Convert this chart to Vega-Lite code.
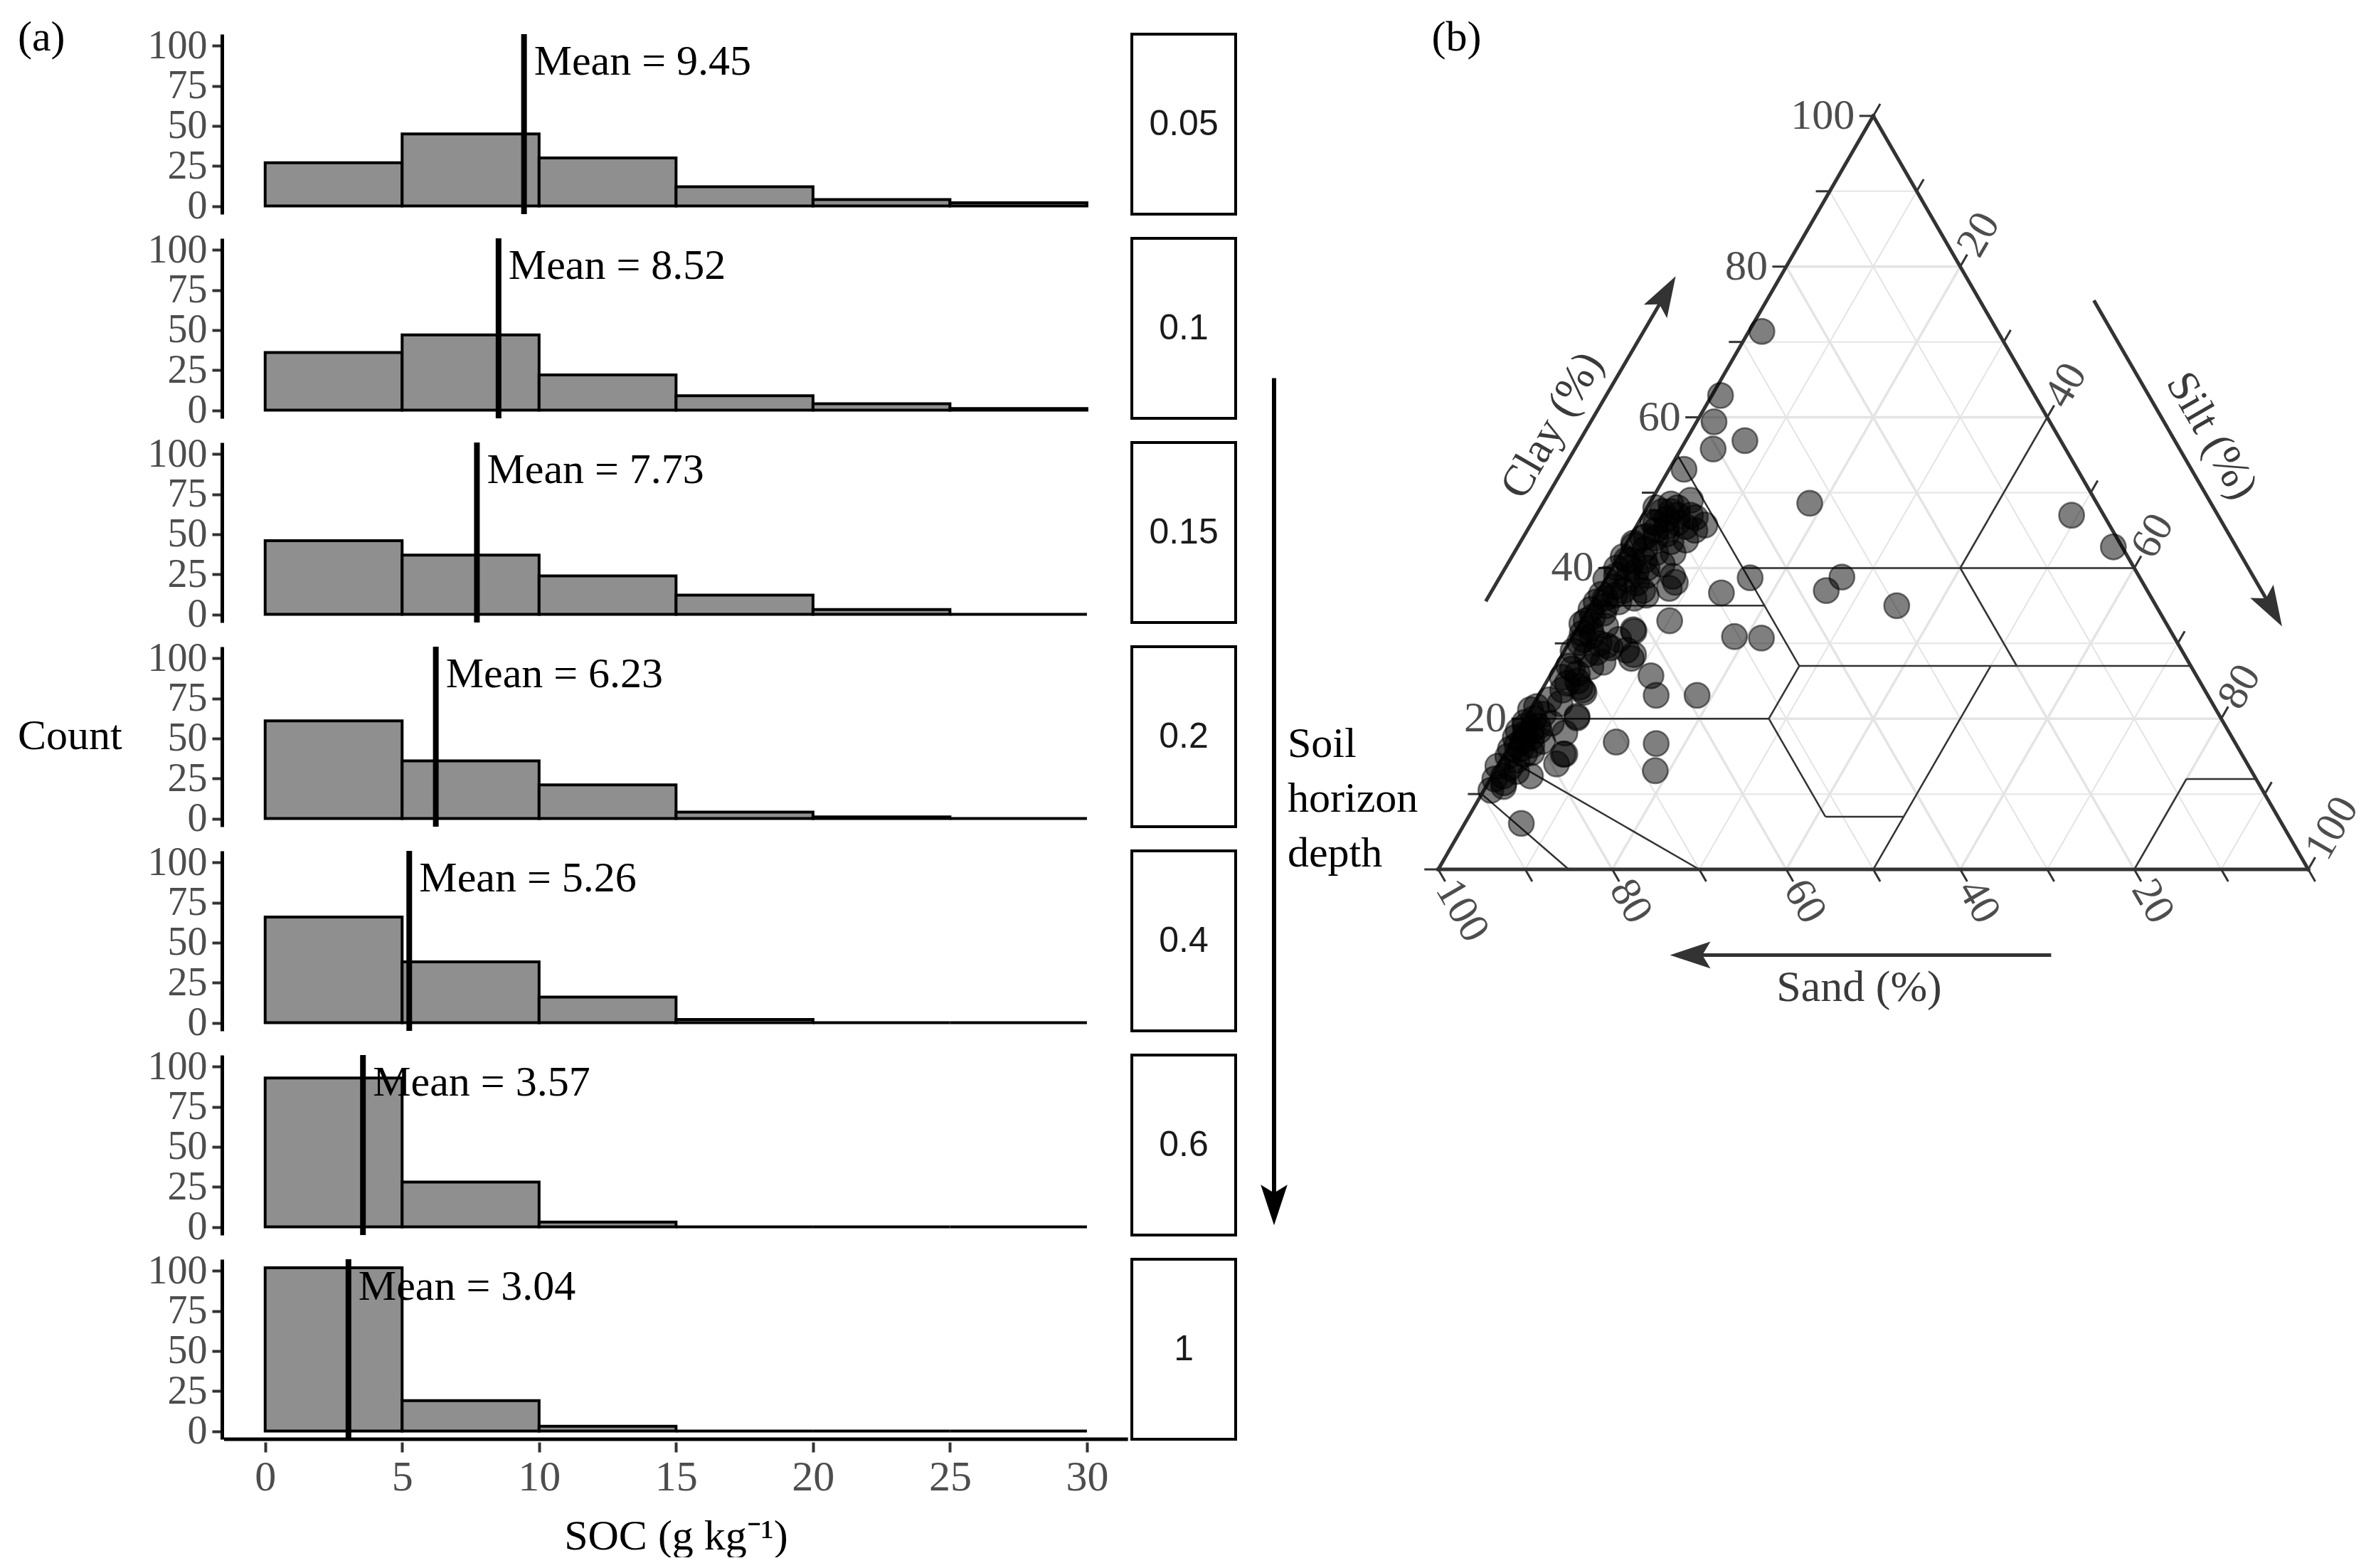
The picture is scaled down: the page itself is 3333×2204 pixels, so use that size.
{
"$schema": "https://vega.github.io/schema/vega-lite/v6.json",
"background": "white",
"padding": {"left": 0, "top": 23, "right": 0, "bottom": 0},
"spacing": 0,
"config": {"font": "Liberation Serif", "view": {"stroke": null}, "axis": {"grid": false, "labelOverlap": false, "labelFont": "Liberation Serif", "titleFont": "Liberation Serif"}},
"datasets": {
"hist": [
{"depth":"0.05","bin":0,"bin_end":5,"count":27},{"depth":"0.05","bin":5,"bin_end":10,"count":45},{"depth":"0.05","bin":10,"bin_end":15,"count":30},{"depth":"0.05","bin":15,"bin_end":20,"count":12},{"depth":"0.05","bin":20,"bin_end":25,"count":4},{"depth":"0.05","bin":25,"bin_end":30,"count":2},
{"depth":"0.1","bin":0,"bin_end":5,"count":36},{"depth":"0.1","bin":5,"bin_end":10,"count":47},{"depth":"0.1","bin":10,"bin_end":15,"count":22},{"depth":"0.1","bin":15,"bin_end":20,"count":9},{"depth":"0.1","bin":20,"bin_end":25,"count":4},{"depth":"0.1","bin":25,"bin_end":30,"count":1},
{"depth":"0.15","bin":0,"bin_end":5,"count":46},{"depth":"0.15","bin":5,"bin_end":10,"count":37},{"depth":"0.15","bin":10,"bin_end":15,"count":24},{"depth":"0.15","bin":15,"bin_end":20,"count":12},{"depth":"0.15","bin":20,"bin_end":25,"count":3},{"depth":"0.15","bin":25,"bin_end":30,"count":0},
{"depth":"0.2","bin":0,"bin_end":5,"count":61},{"depth":"0.2","bin":5,"bin_end":10,"count":36},{"depth":"0.2","bin":10,"bin_end":15,"count":21},{"depth":"0.2","bin":15,"bin_end":20,"count":4},{"depth":"0.2","bin":20,"bin_end":25,"count":1},{"depth":"0.2","bin":25,"bin_end":30,"count":0},
{"depth":"0.4","bin":0,"bin_end":5,"count":66},{"depth":"0.4","bin":5,"bin_end":10,"count":38},{"depth":"0.4","bin":10,"bin_end":15,"count":16},{"depth":"0.4","bin":15,"bin_end":20,"count":2},{"depth":"0.4","bin":20,"bin_end":25,"count":0},{"depth":"0.4","bin":25,"bin_end":30,"count":0},
{"depth":"0.6","bin":0,"bin_end":5,"count":93},{"depth":"0.6","bin":5,"bin_end":10,"count":28},{"depth":"0.6","bin":10,"bin_end":15,"count":3},{"depth":"0.6","bin":15,"bin_end":20,"count":0},{"depth":"0.6","bin":20,"bin_end":25,"count":0},{"depth":"0.6","bin":25,"bin_end":30,"count":0},
{"depth":"1","bin":0,"bin_end":5,"count":102},{"depth":"1","bin":5,"bin_end":10,"count":19},{"depth":"1","bin":10,"bin_end":15,"count":3},{"depth":"1","bin":15,"bin_end":20,"count":0},{"depth":"1","bin":20,"bin_end":25,"count":0},{"depth":"1","bin":25,"bin_end":30,"count":0},
{"depth":"0.05","mean":9.45},{"depth":"0.1","mean":8.52},{"depth":"0.15","mean":7.73},{"depth":"0.2","mean":6.23},{"depth":"0.4","mean":5.26},{"depth":"0.6","mean":3.57},{"depth":"1","mean":3.04}
],
"soil": [
{"clay":71.4,"silt":1.5,"sand":27.1},{"clay":62.9,"silt":1.0,"sand":36.1},{"clay":59.4,"silt":2.0,"sand":38.6},{"clay":56.9,"silt":6.8,"sand":36.3},{"clay":55.8,"silt":3.7,"sand":40.5},{"clay":53.1,"silt":1.7,"sand":45.2},{"clay":48.6,"silt":18.4,"sand":33.0},{"clay":47.0,"silt":49.3,"sand":3.7},{"clay":42.8,"silt":56.2,"sand":1.0},{"clay":38.7,"silt":16.5,"sand":44.8},{"clay":38.8,"silt":27.0,"sand":34.2},{"clay":37.0,"silt":26.1,"sand":36.9},{"clay":35.0,"silt":35.2,"sand":29.8},{"clay":36.7,"silt":14.2,"sand":49.1},{"clay":45.7,"silt":7.8,"sand":46.5},{"clay":33.0,"silt":10.1,"sand":56.9},{"clay":30.9,"silt":18.6,"sand":50.5},{"clay":30.7,"silt":21.8,"sand":47.5},{"clay":25.7,"silt":11.6,"sand":62.7},{"clay":23.1,"silt":13.5,"sand":63.4},{"clay":23.1,"silt":18.2,"sand":58.7},{"clay":16.9,"silt":12.0,"sand":71.1},{"clay":16.7,"silt":16.7,"sand":66.6},{"clay":13.1,"silt":18.4,"sand":68.5},{"clay":6.1,"silt":6.5,"sand":87.4},{"clay":43.7,"silt":6.6,"sand":49.7},{"clay":28.5,"silt":8.2,"sand":63.3},{"clay":31.8,"silt":6.5,"sand":61.7},
{"clay":48.5,"silt":2.5,"sand":49.0},{"clay":48,"silt":3.5,"sand":48.5},{"clay":47.5,"silt":2,"sand":50.5},{"clay":47,"silt":4,"sand":49},{"clay":46.5,"silt":3,"sand":50.5},{"clay":46,"silt":2,"sand":52},{"clay":46,"silt":4.5,"sand":49.5},{"clay":45.5,"silt":3.5,"sand":51},{"clay":45,"silt":2.5,"sand":52.5},{"clay":44.5,"silt":4,"sand":51.5},{"clay":44,"silt":1.5,"sand":54.5},{"clay":44,"silt":3,"sand":53},{"clay":43.5,"silt":5,"sand":51.5},{"clay":47,"silt":5.5,"sand":47.5},{"clay":45.5,"silt":5.7,"sand":48.8},{"clay":46.7,"silt":6.2,"sand":47.1},{"clay":49,"silt":4.5,"sand":46.5},{"clay":48,"silt":1,"sand":51},{"clay":46.1,"silt":1.6,"sand":52.3},{"clay":44.2,"silt":1.8,"sand":54},{"clay":43.3,"silt":0.8,"sand":55.9},{"clay":45,"silt":7,"sand":48},{"clay":47.5,"silt":3,"sand":49.5},
{"clay":43,"silt":1,"sand":56},{"clay":42.5,"silt":2.5,"sand":55},{"clay":42,"silt":4,"sand":54},{"clay":41.5,"silt":0.5,"sand":58},{"clay":41,"silt":1.8,"sand":57.2},{"clay":41,"silt":3.2,"sand":55.8},{"clay":40.5,"silt":5.5,"sand":54},{"clay":40,"silt":2,"sand":58},{"clay":40,"silt":0.5,"sand":59.5},{"clay":39.5,"silt":3,"sand":57.5},{"clay":39,"silt":4.5,"sand":56.5},{"clay":39,"silt":1,"sand":60},{"clay":38.9,"silt":7.5,"sand":53.6},{"clay":38.5,"silt":2.5,"sand":59},{"clay":38.5,"silt":0,"sand":61.5},{"clay":38.1,"silt":8.2,"sand":53.7},{"clay":38,"silt":3.8,"sand":58.2},{"clay":37.5,"silt":1.5,"sand":61},{"clay":37.3,"silt":7.9,"sand":54.8},{"clay":37,"silt":5,"sand":58},{"clay":37,"silt":2.8,"sand":60.2},{"clay":36.5,"silt":0.5,"sand":63},{"clay":36.4,"silt":2.1,"sand":61.5},{"clay":36.4,"silt":5.7,"sand":57.9},{"clay":36,"silt":4.5,"sand":59.5},{"clay":36,"silt":1.2,"sand":62.8},{"clay":35.5,"silt":0.4,"sand":64.1},{"clay":35.5,"silt":3,"sand":61.5},{"clay":35,"silt":1.8,"sand":63.2},{"clay":34.5,"silt":0.3,"sand":65.2},{"clay":41.1,"silt":1.1,"sand":57.8},{"clay":42,"silt":6,"sand":52},{"clay":40,"silt":4,"sand":56},
{"clay":34,"silt":2,"sand":64},{"clay":33.5,"silt":1,"sand":65.5},{"clay":33,"silt":0.5,"sand":66.5},{"clay":32.6,"silt":0.2,"sand":67.2},{"clay":32.3,"silt":3.1,"sand":64.6},{"clay":32,"silt":1.5,"sand":66.5},{"clay":31.6,"silt":6.7,"sand":61.7},{"clay":31.3,"silt":0.9,"sand":67.8},{"clay":31,"silt":2.2,"sand":66.8},{"clay":30.5,"silt":1.5,"sand":68},{"clay":30.1,"silt":1.2,"sand":68.7},{"clay":30,"silt":3.5,"sand":66.5},{"clay":29.7,"silt":4.5,"sand":65.8},{"clay":29.4,"silt":5.1,"sand":65.5},{"clay":29.1,"silt":7.1,"sand":63.8},{"clay":28.5,"silt":2.8,"sand":68.7},{"clay":28,"silt":8.2,"sand":63.8},{"clay":28.8,"silt":3.8,"sand":67.4},{"clay":29,"silt":1,"sand":70},{"clay":30.5,"silt":5.5,"sand":64},
{"clay":27.5,"silt":5.2,"sand":67.3},{"clay":26.9,"silt":4.1,"sand":69},{"clay":26.6,"silt":2.1,"sand":71.3},{"clay":26,"silt":3,"sand":71},{"clay":25.5,"silt":1.5,"sand":73},{"clay":25,"silt":3.5,"sand":71.5},{"clay":24.7,"silt":2.5,"sand":72.8},{"clay":24.2,"silt":4.2,"sand":71.6},{"clay":23.8,"silt":2.4,"sand":73.8},{"clay":23.5,"silt":5.0,"sand":71.5},{"clay":23.8,"silt":4.7,"sand":71.5},{"clay":22.5,"silt":1.5,"sand":76},{"clay":22,"silt":3,"sand":75},{"clay":27,"silt":1.5,"sand":71.5},
{"clay":21.6,"silt":0.5,"sand":77.9},{"clay":21.2,"silt":0,"sand":78.8},{"clay":20.6,"silt":1.8,"sand":77.6},{"clay":20.3,"silt":5.8,"sand":73.9},{"clay":20.1,"silt":5.9,"sand":74},{"clay":20,"silt":1,"sand":79},{"clay":19.5,"silt":0.2,"sand":80.3},{"clay":19.4,"silt":3.3,"sand":77.3},{"clay":19,"silt":0.5,"sand":80.5},{"clay":18.5,"silt":1.5,"sand":80},{"clay":18.4,"silt":2.4,"sand":79.2},{"clay":18.4,"silt":0,"sand":81.6},{"clay":18.1,"silt":5.5,"sand":76.4},{"clay":18,"silt":1,"sand":81},{"clay":17.5,"silt":0.1,"sand":82.4},{"clay":17.5,"silt":2,"sand":80.5},{"clay":17,"silt":1.2,"sand":81.8},{"clay":16.5,"silt":2.5,"sand":81},{"clay":16.5,"silt":0.8,"sand":82.7},{"clay":16,"silt":1.5,"sand":82.5},{"clay":15.5,"silt":3,"sand":81.5},{"clay":15.3,"silt":2.3,"sand":82.4},{"clay":15.3,"silt":6.7,"sand":78},{"clay":15.3,"silt":6.9,"sand":77.8},{"clay":15,"silt":0.5,"sand":84.5},{"clay":14.5,"silt":1.8,"sand":83.7},{"clay":14,"silt":6.6,"sand":79.4},{"clay":13.7,"silt":0,"sand":86.3},{"clay":13.5,"silt":1.5,"sand":85},{"clay":13,"silt":2.5,"sand":84.5},{"clay":12.4,"silt":1.3,"sand":86.3},{"clay":12.4,"silt":4.4,"sand":83.2},{"clay":12,"silt":0.5,"sand":87.5},{"clay":11.5,"silt":1.8,"sand":86.7},{"clay":11,"silt":2,"sand":87},{"clay":10.5,"silt":0.8,"sand":88.7},{"clay":19,"silt":2,"sand":79},{"clay":17,"silt":3.5,"sand":79.5},{"clay":16,"silt":0.3,"sand":83.7}
],
"grid": [
{"ax":"clay","v":10},{"ax":"clay","v":20},{"ax":"clay","v":30},{"ax":"clay","v":40},{"ax":"clay","v":50},{"ax":"clay","v":60},{"ax":"clay","v":70},{"ax":"clay","v":80},{"ax":"clay","v":90},
{"ax":"sand","v":10},{"ax":"sand","v":20},{"ax":"sand","v":30},{"ax":"sand","v":40},{"ax":"sand","v":50},{"ax":"sand","v":60},{"ax":"sand","v":70},{"ax":"sand","v":80},{"ax":"sand","v":90},
{"ax":"silt","v":10},{"ax":"silt","v":20},{"ax":"silt","v":30},{"ax":"silt","v":40},{"ax":"silt","v":50},{"ax":"silt","v":60},{"ax":"silt","v":70},{"ax":"silt","v":80},{"ax":"silt","v":90}
],
"ticks": [
{"ax":"clay","v":0},{"ax":"clay","v":10},{"ax":"clay","v":20},{"ax":"clay","v":30},{"ax":"clay","v":40},{"ax":"clay","v":50},{"ax":"clay","v":60},{"ax":"clay","v":70},{"ax":"clay","v":80},{"ax":"clay","v":90},{"ax":"clay","v":100},
{"ax":"sand","v":0},{"ax":"sand","v":10},{"ax":"sand","v":20},{"ax":"sand","v":30},{"ax":"sand","v":40},{"ax":"sand","v":50},{"ax":"sand","v":60},{"ax":"sand","v":70},{"ax":"sand","v":80},{"ax":"sand","v":90},{"ax":"sand","v":100},
{"ax":"silt","v":0},{"ax":"silt","v":10},{"ax":"silt","v":20},{"ax":"silt","v":30},{"ax":"silt","v":40},{"ax":"silt","v":50},{"ax":"silt","v":60},{"ax":"silt","v":70},{"ax":"silt","v":80},{"ax":"silt","v":90},{"ax":"silt","v":100}
],
"classes": [
{"c1":60,"s1":40,"c2":40,"s2":40},{"c1":40,"s1":15,"c2":40,"s2":60},{"c1":55,"s1":0,"c2":27,"s2":28},{"c1":35,"s1":0,"c2":35,"s2":20},{"c1":40,"s1":40,"c2":27,"s2":53},{"c1":27,"s1":28,"c2":27,"s2":73},{"c1":27,"s1":28,"c2":20,"s2":28},{"c1":20,"s1":0,"c2":20,"s2":28},{"c1":20,"s1":28,"c2":7,"s2":41},{"c1":7,"s1":41,"c2":7,"s2":50},{"c1":27,"s1":50,"c2":0,"s2":50},{"c1":0,"s1":80,"c2":12,"s2":80},{"c1":12,"s1":80,"c2":12,"s2":88},{"c1":15,"s1":0,"c2":0,"s2":30},{"c1":10,"s1":0,"c2":0,"s2":15}
],
"edges": [
{"c1":0,"s1":0,"c2":100,"s2":0},{"c1":0,"s1":0,"c2":0,"s2":100},{"c1":0,"s1":100,"c2":100,"s2":0}
]
},
"hconcat": [
{
"width": 207, "height": 1988,
"data": {"values": [{}]},
"layer": [
{"mark": {"type": "text", "align": "left", "baseline": "middle", "fontSize": 60, "color": "black", "text": "(a)"},
 "encoding": {"x": {"datum": 0.1208, "type": "quantitative", "scale": {"domain": [0, 1], "nice": false}, "axis": null}, "y": {"datum": 0.9973, "type": "quantitative", "scale": {"domain": [0, 1], "nice": false}, "axis": null}}},
{"mark": {"type": "text", "align": "left", "baseline": "middle", "fontSize": 60, "color": "black", "text": "Count"},
 "encoding": {"x": {"datum": 0.1208, "type": "quantitative", "axis": null}, "y": {"datum": 0.5033, "type": "quantitative", "axis": null}}}
]
},
{
"data": {"name": "hist"},
"transform": [{"calculate": "isValid(datum.mean) ? 'Mean = ' + format(datum.mean, '.2f') : ''", "as": "label"}],
"facet": {"row": {"field": "depth", "type": "ordinal", "sort": ["0.05", "0.1", "0.15", "0.2", "0.4", "0.6", "1"], "title": null, "header": {"labels": false}}},
"spacing": {"row": 26},
"spec": {
"width": 1422, "height": 253,
"layer": [
{"transform": [{"filter": "isValid(datum.count)"}],
 "mark": {"type": "rect", "fill": "#8f8f8f", "stroke": "black", "strokeWidth": 4},
 "encoding": {
  "x": {"field": "bin", "type": "quantitative", "scale": {"domain": [-1.5, 35.43], "nice": false, "zero": false},
        "axis": {"values": [0, 5, 10, 15, 20, 25, 30], "domain": false, "tickSize": 14, "tickWidth": 4, "tickColor": "#333333", "labelFontSize": 60, "labelColor": "#4d4d4d", "labelPadding": 6, "title": "SOC (g kg⁻¹)", "titleFontSize": 60, "titleColor": "black", "titleFontWeight": "normal", "titlePadding": 24, "titleX": 635}},
  "x2": {"field": "bin_end"},
  "y": {"field": "count", "type": "quantitative", "scale": {"domain": [-5.1, 107.3], "nice": false, "zero": false},
        "axis": {"values": [0, 25, 50, 75, 100], "domain": true, "domainColor": "black", "domainWidth": 5, "tickSize": 14, "tickWidth": 4, "tickColor": "#333333", "labelFontSize": 56, "labelColor": "#4d4d4d", "labelPadding": 7, "title": null}},
  "y2": {"datum": 0}
 }},
{"transform": [{"filter": "isValid(datum.mean)"}],
 "mark": {"type": "rule", "color": "black", "strokeWidth": 8},
 "encoding": {"x": {"field": "mean", "type": "quantitative"}}},
{"transform": [{"filter": "isValid(datum.mean)"}],
 "mark": {"type": "text", "align": "left", "baseline": "middle", "dx": 14, "fontSize": 60, "color": "black"},
 "encoding": {"x": {"field": "mean", "type": "quantitative"}, "y": {"datum": 90}, "text": {"field": "label"}}},
{"transform": [{"filter": "isValid(datum.mean)"}],
 "mark": {"type": "rect", "fill": "white", "stroke": "black", "strokeWidth": 4},
 "encoding": {"x": {"datum": 31.64}, "x2": {"datum": 35.43}, "y": {"datum": -5.1}, "y2": {"datum": 107.3}}},
{"transform": [{"filter": "isValid(datum.mean)"}],
 "mark": {"type": "text", "font": "Liberation Sans", "fontSize": 50, "color": "#1a1a1a", "align": "center", "baseline": "middle"},
 "encoding": {"x": {"datum": 33.535}, "y": {"datum": 51}, "text": {"field": "depth"}}},
{"transform": [{"filter": "isValid(datum.mean) && datum.depth == '1'"}],
 "mark": {"type": "rule", "color": "black", "strokeWidth": 5},
 "encoding": {"x": {"datum": -1.5}, "x2": {"datum": 31.5}, "y": {"datum": -5.1}}}
]
}
},
{
"width": 261, "height": 1988,
"data": {"values": [{}]},
"layer": [
{"mark": {"type": "rule", "color": "black", "strokeWidth": 6},
 "encoding": {"x": {"datum": 0.1992, "type": "quantitative", "scale": {"domain": [0, 1], "nice": false}, "axis": null}, "y": {"datum": 0.7568, "type": "quantitative", "scale": {"domain": [0, 1], "nice": false}, "axis": null}, "y2": {"datum": 0.1729}}},
{"mark": {"type": "point", "shape": "M0,0L0.33,1L0,0.8L-0.33,1Z", "filled": true, "size": 13000, "angle": 180, "color": "black", "opacity": 1},
 "encoding": {"x": {"datum": 0.1992, "type": "quantitative", "axis": null}, "y": {"datum": 0.1578, "type": "quantitative", "axis": null}}},
{"mark": {"type": "text", "align": "left", "baseline": "middle", "fontSize": 60, "lineHeight": 77, "color": "black", "text": ["Soil", "horizon", "depth"]},
 "encoding": {"x": {"datum": 0.272, "type": "quantitative", "axis": null}, "y": {"datum": 0.4978, "type": "quantitative", "axis": null}}}
]
},
{
"width": 1302, "height": 1402,
"layer": [
{"data": {"name": "grid"},
 "transform": [
  {"calculate": "datum.ax == 'clay' ? datum.v : 0", "as": "c1"},
  {"calculate": "datum.ax == 'clay' ? 0 : (datum.ax == 'sand' ? 100 - datum.v : datum.v)", "as": "s1"},
  {"calculate": "datum.ax == 'clay' ? datum.v : 100 - datum.v", "as": "c2"},
  {"calculate": "datum.ax == 'clay' ? 100 - datum.v : (datum.ax == 'sand' ? 0 : datum.v)", "as": "s2"},
  {"calculate": "datum.s1 + datum.c1 / 2", "as": "px1"},
  {"calculate": "datum.c1 * 0.8660254", "as": "py1"},
  {"calculate": "datum.s2 + datum.c2 / 2", "as": "px2"},
  {"calculate": "datum.c2 * 0.8660254", "as": "py2"}
 ],
 "mark": {"type": "rule", "color": "#e4e4e4"},
 "encoding": {
  "x": {"field": "px1", "type": "quantitative", "scale": {"domain": [-1.7, 104.76], "nice": false, "zero": false}, "axis": null},
  "y": {"field": "py1", "type": "quantitative", "scale": {"domain": [-18.64, 96.0], "nice": false, "zero": false}, "axis": null},
  "x2": {"field": "px2"}, "y2": {"field": "py2"},
  "strokeWidth": {"condition": {"test": "datum.v % 20 == 0", "value": 3.5}, "value": 2}
 }},
{"data": {"name": "classes"},
 "transform": [
  {"calculate": "datum.s1 + datum.c1 / 2", "as": "px1"},
  {"calculate": "datum.c1 * 0.8660254", "as": "py1"},
  {"calculate": "datum.s2 + datum.c2 / 2", "as": "px2"},
  {"calculate": "datum.c2 * 0.8660254", "as": "py2"}
 ],
 "mark": {"type": "rule", "color": "#333333", "strokeWidth": 2.5},
 "encoding": {"x": {"field": "px1", "type": "quantitative", "axis": null}, "y": {"field": "py1", "type": "quantitative", "axis": null}, "x2": {"field": "px2"}, "y2": {"field": "py2"}}},
{"data": {"name": "edges"},
 "transform": [
  {"calculate": "datum.s1 + datum.c1 / 2", "as": "px1"},
  {"calculate": "datum.c1 * 0.8660254", "as": "py1"},
  {"calculate": "datum.s2 + datum.c2 / 2", "as": "px2"},
  {"calculate": "datum.c2 * 0.8660254", "as": "py2"}
 ],
 "mark": {"type": "rule", "color": "#333333", "strokeWidth": 5, "strokeCap": "square"},
 "encoding": {"x": {"field": "px1", "type": "quantitative", "axis": null}, "y": {"field": "py1", "type": "quantitative", "axis": null}, "x2": {"field": "px2"}, "y2": {"field": "py2"}}},
{"data": {"name": "ticks"},
 "transform": [
  {"calculate": "datum.ax == 'clay' ? datum.v : (datum.ax == 'sand' ? 0 : 100 - datum.v)", "as": "c1"},
  {"calculate": "datum.ax == 'clay' ? 0 : (datum.ax == 'sand' ? 100 - datum.v : datum.v)", "as": "s1"},
  {"calculate": "datum.ax == 'clay' ? datum.v : (datum.ax == 'sand' ? -1.6 : 101.6 - datum.v)", "as": "c2"},
  {"calculate": "datum.ax == 'clay' ? -1.6 : (datum.ax == 'sand' ? 101.6 - datum.v : datum.v)", "as": "s2"},
  {"calculate": "datum.s1 + datum.c1 / 2", "as": "px1"},
  {"calculate": "datum.c1 * 0.8660254", "as": "py1"},
  {"calculate": "datum.s2 + datum.c2 / 2", "as": "px2"},
  {"calculate": "datum.c2 * 0.8660254", "as": "py2"}
 ],
 "mark": {"type": "rule", "color": "#333333", "strokeWidth": 3},
 "encoding": {"x": {"field": "px1", "type": "quantitative", "axis": null}, "y": {"field": "py1", "type": "quantitative", "axis": null}, "x2": {"field": "px2"}, "y2": {"field": "py2"}}},
{"data": {"name": "soil"},
 "transform": [
  {"calculate": "datum.silt + datum.clay / 2", "as": "px"},
  {"calculate": "datum.clay * 0.8660254", "as": "py"}
 ],
 "mark": {"type": "circle", "size": 1250, "fill": "black", "fillOpacity": 0.5, "stroke": "black", "strokeOpacity": 0.5, "strokeWidth": 2.5, "opacity": 1},
 "encoding": {"x": {"field": "px", "type": "quantitative", "axis": null}, "y": {"field": "py", "type": "quantitative", "axis": null}}},
{"data": {"name": "ticks"},
 "transform": [
  {"filter": "datum.ax == 'clay' && datum.v >= 20 && datum.v % 20 == 0"},
  {"calculate": "datum.v / 2", "as": "px1"},
  {"calculate": "datum.v * 0.8660254", "as": "py1"}
 ],
 "mark": {"type": "text", "align": "right", "baseline": "middle", "dx": -26, "fontSize": 60, "color": "#4d4d4d"},
 "encoding": {"x": {"field": "px1", "type": "quantitative", "axis": null}, "y": {"field": "py1", "type": "quantitative", "axis": null}, "text": {"field": "v", "type": "nominal"}}},
{"data": {"name": "ticks"},
 "transform": [
  {"filter": "datum.ax == 'sand' && datum.v >= 20 && datum.v % 20 == 0"},
  {"calculate": "100 - datum.v", "as": "px1"},
  {"calculate": "0", "as": "py1"}
 ],
 "mark": {"type": "text", "align": "left", "baseline": "middle", "dx": 22, "angle": 60, "fontSize": 60, "color": "#4d4d4d"},
 "encoding": {"x": {"field": "px1", "type": "quantitative", "axis": null}, "y": {"field": "py1", "type": "quantitative", "axis": null}, "text": {"field": "v", "type": "nominal"}}},
{"data": {"name": "ticks"},
 "transform": [
  {"filter": "datum.ax == 'silt' && datum.v >= 20 && datum.v % 20 == 0"},
  {"calculate": "50 + datum.v / 2", "as": "px1"},
  {"calculate": "(100 - datum.v) * 0.8660254", "as": "py1"}
 ],
 "mark": {"type": "text", "align": "left", "baseline": "middle", "dx": 22, "angle": -60, "fontSize": 60, "color": "#4d4d4d"},
 "encoding": {"x": {"field": "px1", "type": "quantitative", "axis": null}, "y": {"field": "py1", "type": "quantitative", "axis": null}, "text": {"field": "v", "type": "nominal"}}},
{"data": {"values": [{}]},
 "mark": {"type": "text", "align": "center", "baseline": "middle", "angle": -60, "fontSize": 62, "color": "#3a3a3a", "text": "Clay (%)"},
 "encoding": {"x": {"datum": 13.07, "type": "quantitative", "axis": null}, "y": {"datum": 51.07, "type": "quantitative", "axis": null}}},
{"data": {"values": [{}]},
 "mark": {"type": "text", "align": "center", "baseline": "middle", "angle": 60, "fontSize": 62, "color": "#3a3a3a", "text": "Silt (%)"},
 "encoding": {"x": {"datum": 88.93, "type": "quantitative", "axis": null}, "y": {"datum": 49.85, "type": "quantitative", "axis": null}}},
{"data": {"values": [{}]},
 "mark": {"type": "text", "align": "center", "baseline": "middle", "fontSize": 62, "color": "#3a3a3a", "text": "Sand (%)"},
 "encoding": {"x": {"datum": 48.38, "type": "quantitative", "axis": null}, "y": {"datum": -13.6, "type": "quantitative", "axis": null}}},
{"data": {"values": [{}]},
 "mark": {"type": "rule", "color": "#333333", "strokeWidth": 5},
 "encoding": {"x": {"datum": 5.46, "type": "quantitative", "axis": null}, "y": {"datum": 30.81, "type": "quantitative", "axis": null}, "x2": {"datum": 26.07}, "y2": {"datum": 66.05}}},
{"data": {"values": [{}]},
 "mark": {"type": "point", "shape": "M0,0L0.33,1L0,0.8L-0.33,1Z", "filled": true, "size": 13000, "angle": 30, "color": "#333333", "opacity": 1},
 "encoding": {"x": {"datum": 27.29, "type": "quantitative", "axis": null}, "y": {"datum": 68.17, "type": "quantitative", "axis": null}}},
{"data": {"values": [{}]},
 "mark": {"type": "rule", "color": "#333333", "strokeWidth": 5},
 "encoding": {"x": {"datum": 75.36, "type": "quantitative", "axis": null}, "y": {"datum": 65.39, "type": "quantitative", "axis": null}, "x2": {"datum": 95.77}, "y2": {"datum": 30.05}}},
{"data": {"values": [{}]},
 "mark": {"type": "point", "shape": "M0,0L0.33,1L0,0.8L-0.33,1Z", "filled": true, "size": 13000, "angle": 150, "color": "#333333", "opacity": 1},
 "encoding": {"x": {"datum": 96.99, "type": "quantitative", "axis": null}, "y": {"datum": 27.93, "type": "quantitative", "axis": null}}},
{"data": {"values": [{}]},
 "mark": {"type": "rule", "color": "#333333", "strokeWidth": 5},
 "encoding": {"x": {"datum": 70.45, "type": "quantitative", "axis": null}, "y": {"datum": -9.84, "type": "quantitative", "axis": null}, "x2": {"datum": 29.08}}},
{"data": {"values": [{}]},
 "mark": {"type": "point", "shape": "M0,0L0.33,1L0,0.8L-0.33,1Z", "filled": true, "size": 13000, "angle": 270, "color": "#333333", "opacity": 1},
 "encoding": {"x": {"datum": 26.63, "type": "quantitative", "axis": null}, "y": {"datum": -9.84, "type": "quantitative", "axis": null}}},
{"data": {"values": [{}]},
 "mark": {"type": "text", "align": "left", "baseline": "middle", "fontSize": 60, "color": "black", "text": "(b)"},
 "encoding": {"x": {"datum": -0.76, "type": "quantitative", "axis": null}, "y": {"datum": 95.56, "type": "quantitative", "axis": null}}}
]
}
]
}
